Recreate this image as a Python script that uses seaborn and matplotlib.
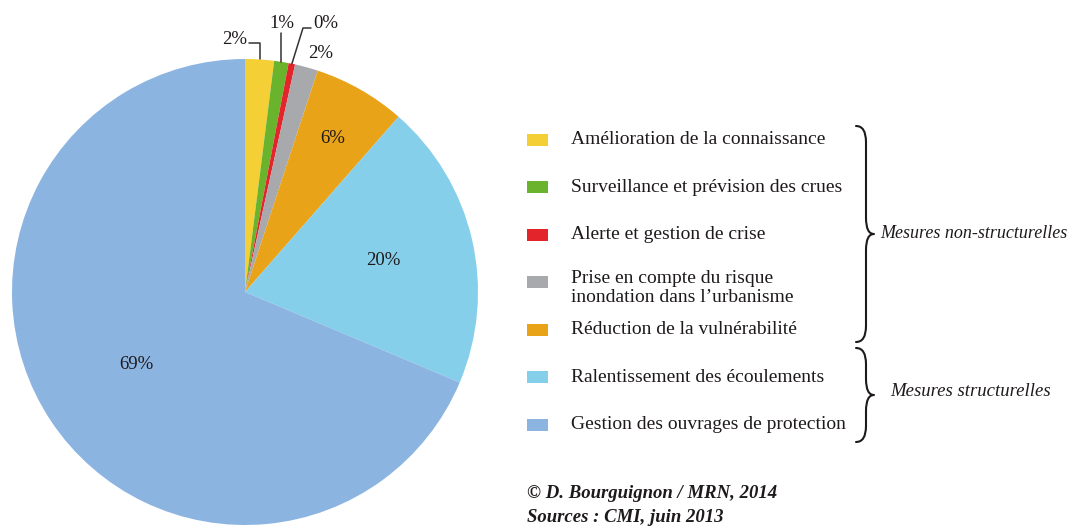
import numpy as np
import matplotlib
matplotlib.use("Agg")
import matplotlib.pyplot as plt
from matplotlib.path import Path
from matplotlib.patches import PathPatch, Rectangle
import seaborn as sns

# ---------------- data ----------------
categories = [
    "Amélioration de la connaissance",
    "Surveillance et prévision des crues",
    "Alerte et gestion de crise",
    "Prise en compte du risque\ninondation dans l\u2019urbanisme",
    "Réduction de la vulnérabilité",
    "Ralentissement des écoulements",
    "Gestion des ouvrages de protection",
]
shares = [2.0, 1.0, 0.45, 1.6, 6.4, 19.9, 68.65]
pct_labels = ["2%", "1%", "0%", "2%", "6%", "20%", "69%"]
colors = ["#F4CF35", "#6AB42D", "#E3242B", "#A8A9AC", "#E8A318", "#86CFEB", "#8BB4E1"]
group_labels = ["Mesures non-structurelles", "Mesures structurelles"]
footer = ["\u00a9 D. Bourguignon / MRN, 2014", "Sources : CMI, juin 2013"]

# ---------------- style ----------------
sns.set_theme(style="white")
plt.rcParams["font.family"] = ["Liberation Serif", "DejaVu Serif"]
palette = sns.color_palette(colors)

W, H = 1077, 530
fig = plt.figure(figsize=(W / 100, H / 100), dpi=100)
ax = fig.add_axes([0, 0, 1, 1])

def Y(y):  # pixel-from-top -> axes y
    return H - y

cx, cy, R = 245, 292, 233
wedges, _ = ax.pie(shares, colors=palette, startangle=90, counterclock=False,
                   center=(cx, Y(cy)), radius=R, wedgeprops=dict(linewidth=0))
ax.set_xlim(0, W)
ax.set_ylim(0, H)
ax.set_aspect("equal")
ax.axis("off")

txtc = "#1E1A1B"
fs_pct = 13.5

def mid_point(w, frac):
    th = np.deg2rad((w.theta1 + w.theta2) / 2)
    return cx + frac * R * np.cos(th), Y(cy) + frac * R * np.sin(th)

# inner labels
for i, frac in [(4, 0.76), (5, 0.61), (6, 0.56)]:
    x, y = mid_point(wedges[i], frac)
    ax.text(x, y, pct_labels[i], ha="center", va="center", fontsize=fs_pct, color=txtc)

lk = dict(color="#333333", lw=1.1)
# yellow
x0, y0 = mid_point(wedges[0], 1.0)
ax.plot([x0, x0, x0 - 11], [y0, Y(43), Y(43)], **lk)
ax.text(x0 - 13, Y(40), pct_labels[0], ha="right", va="center", fontsize=fs_pct, color=txtc)
# green
x1, y1 = mid_point(wedges[1], 1.0)
ax.plot([x1, x1], [y1, Y(33)], **lk)
ax.text(x1, Y(23), pct_labels[1], ha="center", va="center", fontsize=fs_pct, color=txtc)
# red
x2, y2 = mid_point(wedges[2], 1.0)
ax.plot([x2, 303, 311], [y2, Y(28), Y(28)], **lk)
ax.text(313, Y(23), pct_labels[2], ha="left", va="center", fontsize=fs_pct, color=txtc)
# grey
ax.text(321, Y(53), pct_labels[3], ha="center", va="center", fontsize=fs_pct, color=txtc)

# legend
fs_leg = 14
row0, step = 139.5, 47.5
for i, (lab, col) in enumerate(zip(categories, palette)):
    yc = row0 + step * i
    ax.add_patch(Rectangle((527, Y(yc) - 6), 21, 12, facecolor=col, edgecolor="none"))
    ty = yc + (6 if "\n" in lab else 0)
    ax.text(571, Y(ty), lab, ha="left", va="center", fontsize=fs_leg, color=txtc,
            linespacing=1.2)

def brace(top, bot, xl, xm, xt, r=16):
    mid = (top + bot) / 2
    verts = [(xl, Y(top)), (xm, Y(top)), (xm, Y(top + r)),
             (xm, Y(mid - r)), (xm, Y(mid)), (xt, Y(mid)),
             (xm, Y(mid)), (xm, Y(mid + r)),
             (xm, Y(bot - r)), (xm, Y(bot)), (xl, Y(bot))]
    codes = [Path.MOVETO, Path.CURVE3, Path.CURVE3,
             Path.LINETO, Path.CURVE3, Path.CURVE3,
             Path.CURVE3, Path.CURVE3,
             Path.LINETO, Path.CURVE3, Path.CURVE3]
    ax.add_patch(PathPatch(Path(verts, codes), facecolor="none", edgecolor=txtc, lw=1.5,
                           capstyle="round", joinstyle="round"))

brace(126, 342, 856, 866, 874)
brace(348, 442, 856, 866, 874)
ax.text(880, Y(234), group_labels[0], ha="left", va="center", fontsize=13,
        style="italic", color=txtc)
ax.text(890, Y(391), group_labels[1], ha="left", va="center", fontsize=13.5,
        style="italic", color=txtc)

ax.text(527, Y(494), footer[0], ha="left", va="center", fontsize=13.5,
        style="italic", weight="bold", color=txtc)
ax.text(527, Y(518), footer[1], ha="left", va="center", fontsize=13.5,
        style="italic", weight="bold", color=txtc)

fig.savefig("out.png", dpi=100, facecolor="white")
